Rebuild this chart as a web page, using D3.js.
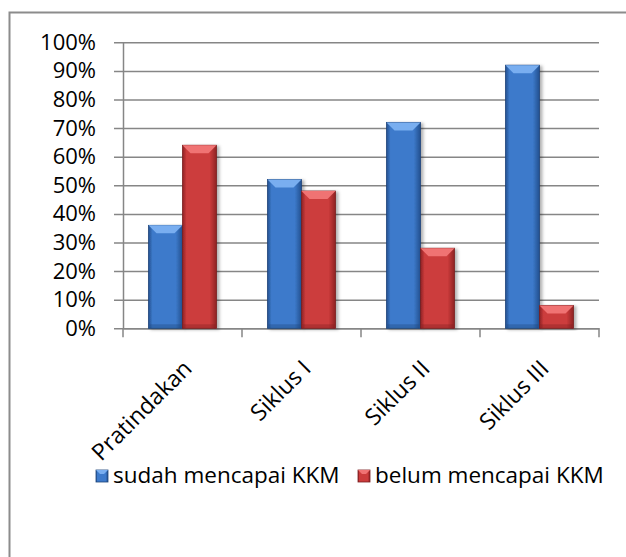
<!DOCTYPE html>
<html lang="en">
<head>
    <meta charset="UTF-8">
    <title>Ketuntasan KKM</title>
    <script src="https://d3js.org/d3.v7.min.js"></script>
    <style>
        body { margin: 0; background: #fff; }
        svg text { font-family: "Open Sans", sans-serif; fill: #000; }
    </style>
</head>
<body>
<svg id="chart"></svg>
<script>
    // data
    const categories = ["Pratindakan", "Siklus I", "Siklus II", "Siklus III"];
    const seriesNames = ["sudah mencapai KKM", "belum mencapai KKM"];
    const sudah = [0.36, 0.52, 0.72, 0.92];
    const belum = [0.64, 0.48, 0.28, 0.08];
    const yTicks = [0, 0.1, 0.2, 0.3, 0.4, 0.5, 0.6, 0.7, 0.8, 0.9, 1.0];

    const width = 626, height = 557;
    const plotLeft = 123, plotRight = 599, plotTop = 42.3, plotBottom = 328.3;

    const svg = d3.select("#chart").attr("width", width).attr("height", height);
    const defs = svg.append("defs");

    // colours per series
    const palette = [
        {edge: "#23508f", mid: "#3d7acb", light: "#79aef0", dark: "#1d4479"},
        {edge: "#8e2224", mid: "#cc3c3c", light: "#f07373", dark: "#7a1d1f"}
    ];
    palette.forEach((p, i) => {
        const g = defs.append("linearGradient").attr("id", "grad" + i)
            .attr("x1", 0).attr("x2", 1).attr("y1", 0).attr("y2", 0);
        g.append("stop").attr("offset", "0%").attr("stop-color", p.edge);
        g.append("stop").attr("offset", "12%").attr("stop-color", p.mid);
        g.append("stop").attr("offset", "80%").attr("stop-color", p.mid);
        g.append("stop").attr("offset", "100%").attr("stop-color", p.edge);
    });
    const shadow = defs.append("filter").attr("id", "shadow")
        .attr("x", "-20%").attr("y", "-5%").attr("width", "150%").attr("height", "115%");
    shadow.append("feDropShadow").attr("dx", 2.5).attr("dy", 1).attr("stdDeviation", 1.8)
        .attr("flood-color", "#000").attr("flood-opacity", 0.3);

    // frame (cut off at the right and bottom like the original)
    svg.append("rect")
        .attr("x", 9.5).attr("y", 12.5).attr("width", 700).attr("height", 700)
        .attr("fill", "none").attr("stroke", "#8c8c8c").attr("stroke-width", 2);

    const x0 = d3.scaleBand().domain(categories).range([plotLeft, plotRight]).padding(0);
    const bw = x0.bandwidth();
    const gap = bw * 1.5 / 3.5;
    const x1 = d3.scaleBand().domain(seriesNames).range([gap / 2, bw - gap / 2]).padding(0);
    const y = d3.scaleLinear().domain([0, 1]).range([plotBottom, plotTop]);

    // gridlines + y axis
    const yAxis = d3.axisLeft(y).tickValues(yTicks)
        .tickFormat(d3.format(".0%"))
        .tickSize(-(plotRight - plotLeft)).tickSizeOuter(0).tickPadding(27);
    const gy = svg.append("g").attr("transform", `translate(${plotLeft},0)`).call(yAxis);
    gy.select(".domain").attr("stroke", "#868686").attr("stroke-width", 1.5);
    gy.selectAll(".tick line").attr("stroke", "#868686").attr("stroke-width", 1.5)
        .attr("x1", -9);
    gy.selectAll(".tick text").attr("font-size", 22).attr("font-family", "Open Sans").attr("fill", "#000");

    // x axis
    const xAxis = d3.axisBottom(x0).tickSize(0).tickFormat("");
    const gx = svg.append("g").attr("transform", `translate(0,${plotBottom})`).call(xAxis);
    gx.select(".domain").attr("stroke", "#868686").attr("stroke-width", 1.5);
    gx.selectAll(".tick").remove();
    const edges = categories.map(c => x0(c)).concat([plotRight]);
    gx.selectAll(".cattick").data(edges).enter().append("line")
        .attr("x1", d => d).attr("x2", d => d).attr("y1", 0).attr("y2", 9)
        .attr("stroke", "#868686").attr("stroke-width", 1.5);

    // bars
    const bevel = 8;
    const seriesData = [sudah, belum];
    seriesData.forEach((vals, si) => {
        const p = palette[si];
        const g = svg.append("g");
        const groups = g.selectAll("g.bar").data(vals).enter().append("g").attr("class", "bar");
        groups.each(function (v, i) {
            const sel = d3.select(this);
            const bx = x0(categories[i]) + x1(seriesNames[si]);
            const w = x1.bandwidth();
            const by = y(v);
            const h = plotBottom - by;
            const b = Math.min(bevel, h / 2, w / 2);
            sel.append("rect").attr("x", bx).attr("y", by).attr("width", w).attr("height", h)
                .attr("fill", `url(#grad${si})`).attr("filter", "url(#shadow)")
                .attr("stroke", p.dark).attr("stroke-width", 0.8);
            // top bevel facet
            sel.append("path")
                .attr("d", `M${bx},${by}L${bx + w},${by}L${bx + w - b},${by + b}L${bx + b},${by + b}Z`)
                .attr("fill", p.light);
            // bottom darker strip
            sel.append("rect").attr("x", bx + 1).attr("y", plotBottom - 4).attr("width", w - 2).attr("height", 4)
                .attr("fill", p.dark).attr("opacity", 0.35);
        });
    });

    // rotated category labels
    svg.append("g").selectAll("text").data(categories).enter().append("text")
        .attr("transform", d => `translate(${x0(d) + bw / 2 + 5},${plotBottom + 36}) rotate(-45)`)
        .attr("text-anchor", "end")
        .attr("dy", "0.35em")
        .attr("font-size", 23)
        .text(d => d);

    // legend
    const legendX = [96, 358];
    const legend = svg.append("g").selectAll("g").data(seriesNames).enter().append("g")
        .attr("transform", (d, i) => `translate(${legendX[i]},470)`);
    legend.append("rect").attr("width", 12).attr("height", 12)
        .attr("fill", (d, i) => `url(#grad${i})`)
        .attr("stroke", (d, i) => palette[i].dark).attr("stroke-width", 0.8);
    legend.append("path").attr("d", "M0,0L12,0L8,4L4,4Z").attr("fill", (d, i) => palette[i].light);
    legend.append("text").attr("x", 17).attr("y", 13).attr("font-size", 22.5).text(d => d);
</script>
</body>
</html>
